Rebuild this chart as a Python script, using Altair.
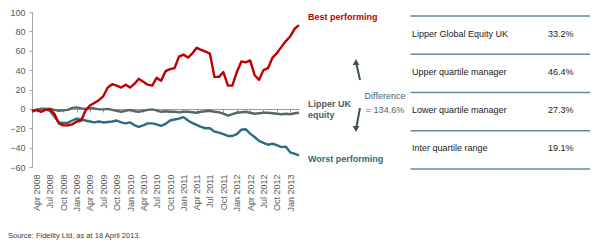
import altair as alt
import pandas as pd

# Monthly observations, Mar 2008 - Mar 2013 (cumulative performance, %)
months = pd.date_range("2008-03-01", periods=61, freq="MS").strftime("%Y-%m-%d").tolist()

best_performing = [
    -2, -1, -3, -1, 0, -5, -15, -17, -17, -16,
    -13, -12, -2, 3.5, 6, 9, 13, 22, 25.5, 24,
    22, 25, 22, 26, 31, 28, 25, 24, 32, 29,
    39, 41, 42, 54, 56, 53, 57, 63, 61, 59,
    57, 33, 33, 38, 24, 24, 38, 49, 48, 50,
    35, 30, 40, 42, 53, 57.5, 64, 70, 75, 83, 86.5,
]
worst_performing = [
    -3, -1, 0, 0, -2, -8, -14, -14.5, -14.5, -12,
    -10, -11, -12, -13, -14, -13, -14, -13.5, -13, -12,
    -14, -15, -14, -17, -18.5, -17, -15, -15, -16, -17.5,
    -15.5, -12, -11, -10, -8.5, -12, -14.5, -16.5, -18.5, -20,
    -20, -23.5, -24.5, -26, -28, -28, -26, -21.5, -21, -25.5,
    -29, -33, -35, -37, -36, -37.5, -39.5, -39, -45, -46.5, -48,
]
lipper_uk_equity = [
    -2, -1, 0, 0, 0, -1, -2, -1.5, -1, 1,
    1.5, 0.5, 0, 1, 0.5, -0.5, -0.5, 0, -1, -2,
    -3, -2, -1, -2.5, -3, -2, -1, -0.5, -1.5, -3,
    -2.5, -3, -3, -3.5, -3, -3, -3.5, -4, -3, -2.5,
    -2, -3, -3.5, -5, -7, -5.5, -4, -3.5, -3, -4,
    -5, -4.5, -4, -4, -4.5, -5, -5.5, -5, -5.5, -4.5, -4,
]

tick_months = pd.date_range("2008-04-01", "2013-01-01", freq="3MS")

table_labels = ["Lipper Global Equity UK", "Upper quartile manager",
                "Lower quartile manager", "Inter quartile range"]
table_values = ["33.2%", "46.4%", "27.3%", "19.1%"]

source_note = "Source: Fidelity Ltd, as at 18 April 2013."

RED = "#c00000"
TEAL = "#2b6c80"
GREY = "#56666b"
FONT = "Liberation Sans"
W, H = 267, 155

x_scale = alt.Scale(
    type="utc", nice=False,
    domain=[alt.DateTime(year=2008, month=3, date=1, utc=True),
            alt.DateTime(year=2013, month=3, date=1, utc=True)],
)
y_scale = alt.Scale(domain=[-60, 100], nice=False, zero=False)

x_axis = alt.Axis(
    title=None, grid=False, format="%b %Y", labelAngle=-90,
    values=[alt.DateTime(year=d.year, month=d.month, date=1, utc=True) for d in tick_months],
    offset=-58, domainColor="#9a9a9a", tickColor="#9a9a9a", tickSize=3,
    labelPadding=62, labelFontSize=9, labelFont=FONT, labelColor="#595959",
    labelOverlap=False, labelFlush=False,
)
y_axis = alt.Axis(
    title=None, grid=False, values=list(range(-60, 101, 20)),
    domainColor="#a6a6a6", tickColor="#a6a6a6", tickSize=3, labelPadding=4,
    labelFontSize=9, labelFont=FONT, labelColor="#595959",
)


def series_line(values, color):
    df = pd.DataFrame({"month": months, "value": values})
    return alt.Chart(df).mark_line(color=color, strokeWidth=2.4, strokeJoin="round").encode(
        x=alt.X("month:T", scale=x_scale, axis=x_axis),
        y=alt.Y("value:Q", scale=y_scale, axis=y_axis),
    )


lines = alt.layer(
    series_line(worst_performing, TEAL),
    series_line(lipper_uk_equity, GREY),
    series_line(best_performing, RED),
)


def note(text, x, y, color, bold=True, align="left", size=9, line_height=11):
    df = pd.DataFrame({"t": [text]})
    return alt.Chart(df).mark_text(
        align=align, baseline="alphabetic", font=FONT, fontSize=size,
        fontWeight="bold" if bold else "normal", color=color,
        lineBreak="\n", lineHeight=line_height,
    ).encode(text="t:N", x=alt.value(x), y=alt.value(y))


one_row = pd.DataFrame({"k": [0]})


def arrow(x_tail, y_tail, x_head, y_head, shape):
    shaft = alt.Chart(one_row).mark_rule(color="#3f5359", strokeWidth=2).encode(
        x=alt.value(x_tail), y=alt.value(y_tail), x2=alt.value(x_head), y2=alt.value(y_head)
    )
    head = alt.Chart(one_row).mark_point(
        shape=shape, filled=True, size=45, color="#3f5359", opacity=1
    ).encode(x=alt.value(x_head), y=alt.value(y_head))
    return shaft + head


annotations = [
    note("Best performing", 276, 8, RED),
    note("Lipper UK\nequity", 276, 95, "#505a5e"),
    note("Worst performing", 276, 150, TEAL),
    note("Difference\n= 134.6%", 353, 87, "#4b6470", bold=False, align="center", line_height=13.5),
    arrow(328, 68, 324, 50, "triangle-up"),
    arrow(328, 96, 324, 117, "triangle-down"),
    note(source_note, -24, 226, "#404040", bold=False, size=7.5),
]

# Summary table to the right of the chart
row_scale = alt.Scale(domain=[-0.5, 3.5], range=[4, 157], nice=False, zero=False)
table_df = pd.DataFrame({"row": list(range(len(table_labels))),
                         "label": table_labels, "value": table_values})
edges_df = pd.DataFrame({"edge": [i - 0.5 for i in range(len(table_labels) + 1)]})

table_rules = alt.Chart(edges_df).mark_rule(color="#5d8e9e", strokeWidth=1.5).encode(
    y=alt.Y("edge:Q", scale=row_scale, axis=None),
    x=alt.value(378.5), x2=alt.value(558),
)
table_text = alt.Chart(table_df).mark_text(
    align="left", baseline="alphabetic", dy=1.5, font=FONT, fontSize=9, color="#1a1a1a"
).encode(y=alt.Y("row:Q", scale=row_scale, axis=None), text="label:N", x=alt.value(380))
table_vals = alt.Chart(table_df).mark_text(
    align="left", baseline="alphabetic", dy=1.5, font=FONT, fontSize=9, color="#1a1a1a"
).encode(y=alt.Y("row:Q", scale=row_scale, axis=None), text="value:N", x=alt.value(516))

chart = alt.layer(
    lines, *annotations, table_rules, table_text, table_vals
).resolve_scale(y="independent").properties(
    width=W, height=H,
    autosize=alt.AutoSizeParams(type="none"),
    padding={"left": 32, "top": 12, "right": 600 - 32 - W, "bottom": 244 - 12 - H},
    background="white",
).configure_view(stroke=None)

chart.save("out.html", embed_options={"renderer": "svg", "actions": False})
